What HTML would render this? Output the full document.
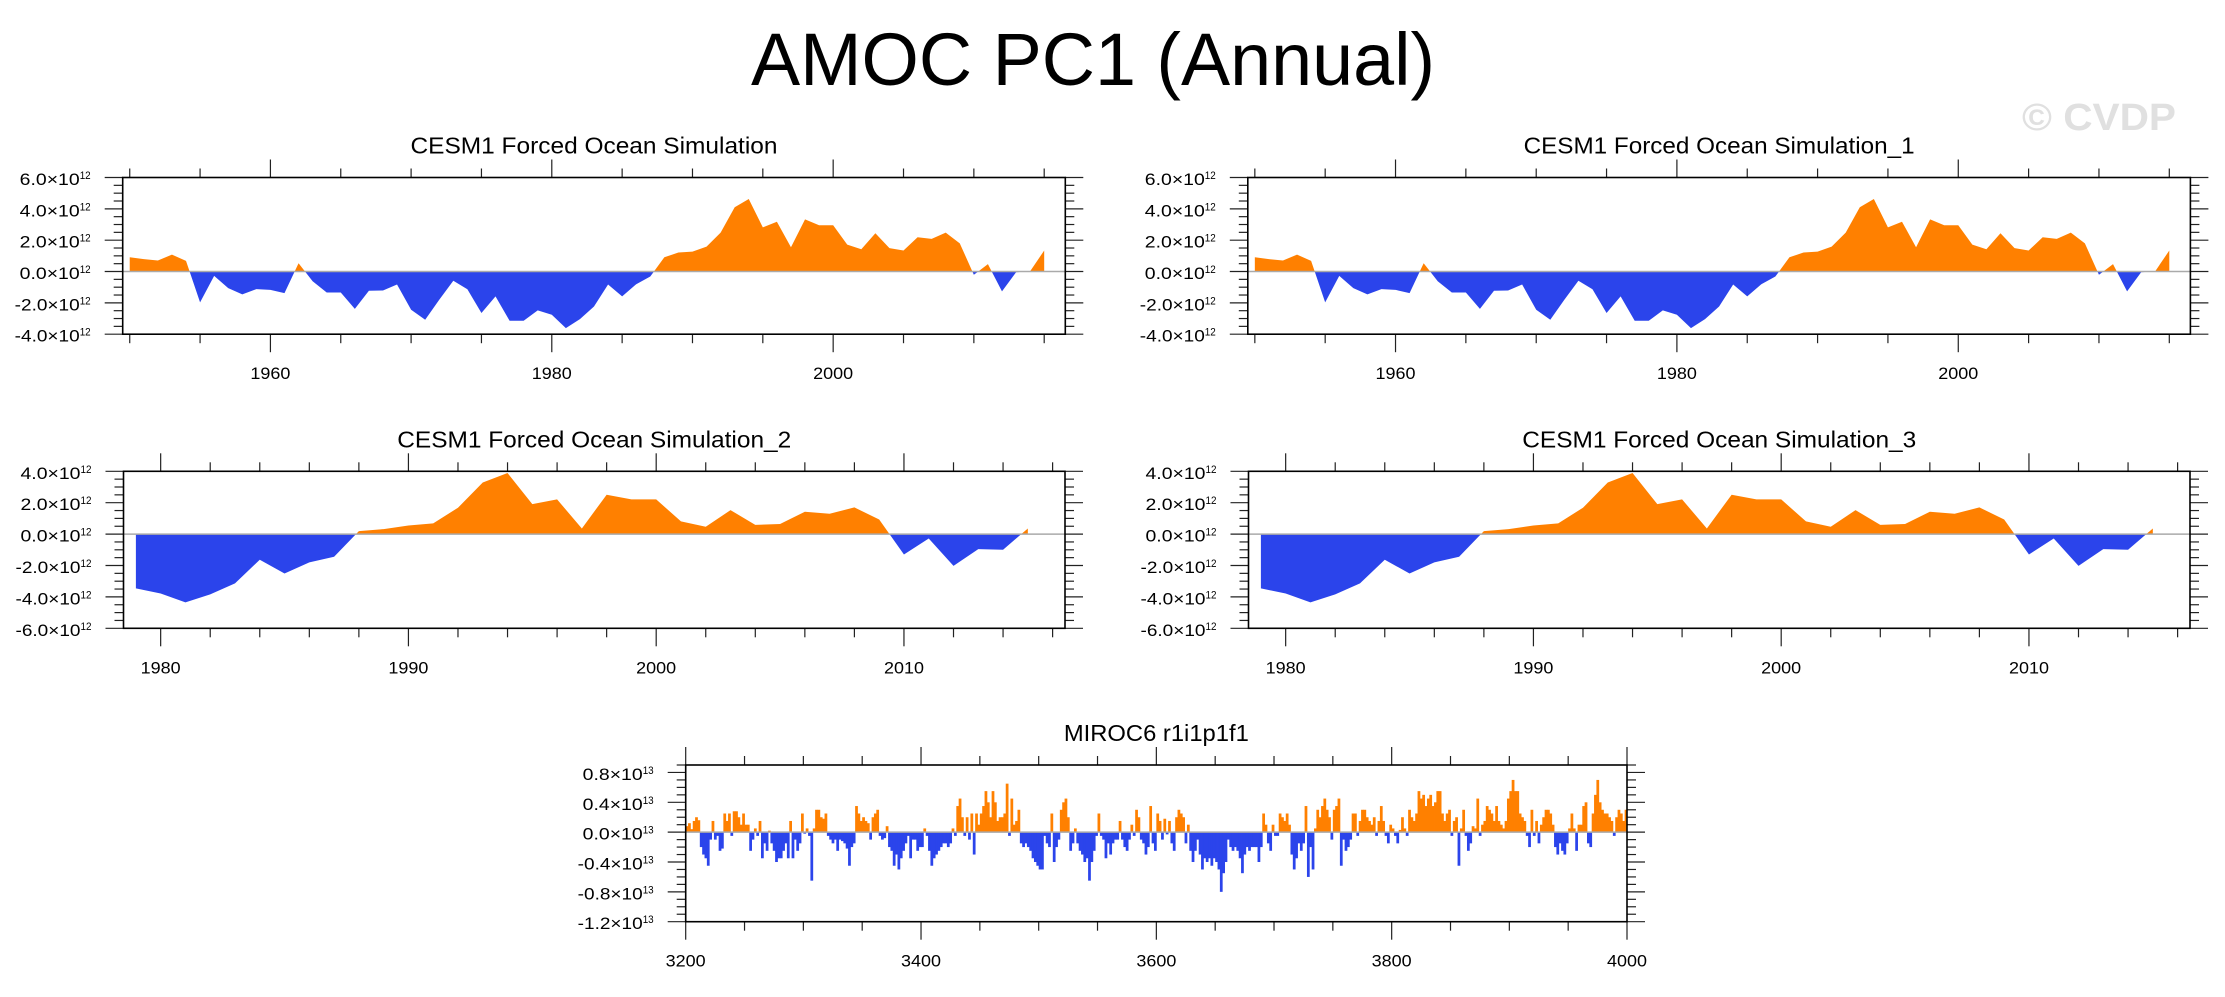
<!DOCTYPE html>
<html><head><meta charset="utf-8"><title>AMOC PC1 (Annual)</title>
<style>
html,body{margin:0;padding:0;background:#fff;}
svg{display:block;font-family:"Liberation Sans",Arial,sans-serif;}
</style></head>
<body>
<svg id="fig" xmlns="http://www.w3.org/2000/svg" width="2225" height="997" viewBox="0 0 2225 997">
<rect width="2225" height="997" fill="#fff"/>
<text x="1093" y="85" font-size="74" text-anchor="middle" textLength="684" lengthAdjust="spacingAndGlyphs">AMOC PC1 (Annual)</text>
<text x="2099" y="130" font-size="38" font-weight="bold" fill="#e0e0e0" text-anchor="middle" textLength="154" lengthAdjust="spacingAndGlyphs">© CVDP</text>
</svg>
<script>
// ---- Panel 1 / 2 data (CESM1, units 1e12) ----
const cesmYearsA = [1950,1951,1952,1953,1954,1955,1956,1957,1958,1959,1960,1961,1962,1963,1964,1965,1966,1967,1968,1969,1970,1971,1972,1973,1974,1975,1976,1977,1978,1979,1980,1981,1982,1983,1984,1985,1986,1987,1988,1989,1990,1991,1992,1993,1994,1995,1996,1997,1998,1999,2000,2001,2002,2003,2004,2005,2006,2007,2008,2009,2010,2011,2012,2013,2014,2015];
const cesmValuesA = [0.91,0.79,0.70,1.08,0.68,-1.97,-0.28,-1.06,-1.46,-1.12,-1.17,-1.38,0.53,-0.62,-1.34,-1.34,-2.38,-1.23,-1.21,-0.83,-2.44,-3.08,-1.80,-0.59,-1.13,-2.65,-1.59,-3.14,-3.14,-2.48,-2.76,-3.61,-3.04,-2.23,-0.83,-1.59,-0.81,-0.32,0.91,1.21,1.27,1.59,2.48,4.10,4.63,2.82,3.18,1.55,3.33,2.95,2.95,1.72,1.42,2.44,1.49,1.34,2.19,2.08,2.48,1.80,-0.21,0.47,-1.27,-0.05,0.02,1.34];
const yTicksA = [6,4,2,0,-2,-4];
const yTickLabelsA = ["6.0","4.0","2.0","0.0","-2.0","-4.0"];
const xTicksA = [1960,1980,2000];
const xTickLabelsA = ["1960","1980","2000"];
// ---- Panel 3 / 4 data ----
const cesmYearsB = [1979,1980,1981,1982,1983,1984,1985,1986,1987,1988,1989,1990,1991,1992,1993,1994,1995,1996,1997,1998,1999,2000,2001,2002,2003,2004,2005,2006,2007,2008,2009,2010,2011,2012,2013,2014,2015];
const cesmValuesB = [-3.46,-3.78,-4.35,-3.84,-3.14,-1.63,-2.51,-1.80,-1.44,0.19,0.32,0.55,0.68,1.68,3.29,3.89,1.91,2.21,0.36,2.51,2.21,2.21,0.81,0.47,1.53,0.59,0.64,1.42,1.30,1.70,0.93,-1.30,-0.28,-2.02,-0.96,-1.00,0.36];
const yTicksB = [4,2,0,-2,-4,-6];
const yTickLabelsB = ["4.0","2.0","0.0","-2.0","-4.0","-6.0"];
const xTicksB = [1980,1990,2000,2010];
const xTickLabelsB = ["1980","1990","2000","2010"];
// ---- Panel 5 data (MIROC6, units 1e12, 2-year steps from 3200) ----
const mirocStart = 3200;
const mirocStep = 2;
const mirocValues = [0.8,1.2,0.4,1.5,2.0,1.6,-2,-3,-3.5,-4.5,-1,1.5,-1,-0.5,-2.5,-2.2,2.5,1.5,2.5,-0.5,2.8,2.8,2.0,1.0,2.5,1.0,1.0,-2.5,-1.0,0.5,-0.5,1.5,-3.5,-1.5,-2.5,0.2,-1.5,-2.5,-4,-3.5,-3.5,-2.5,-1.5,-3.5,1.5,-3.5,-1.0,-2.5,-1.5,2.5,-0.2,0.5,-0.5,-6.5,0.5,3.0,3.0,2.0,1.8,2.5,-0.5,-1.0,-1.5,-1.0,-2.5,-1.0,-1.2,-1.5,-2.2,-4.5,-2.0,-1.5,3.5,2.5,1.5,2.0,1.5,1.2,-1.0,2.0,2.5,3.0,-0.5,-1.0,-0.8,0.8,-2.0,-2.5,-4.5,-3.0,-5.0,-3.5,-2.5,-1.5,-0.5,-3.5,-1.0,-1.0,-2.5,-2.0,-2.0,0.5,-0.5,
-2.5,-4.5,-3.5,-3.0,-2.5,-2.0,-1.5,-1.5,-2.0,-1.5,0.5,-0.5,3.5,4.5,2.0,-0.5,2.0,-1.0,2.5,-3.0,2.5,1.0,2.5,3.5,5.5,4.0,2.0,5.5,4.0,1.5,2.0,2.0,2.5,6.5,-0.5,4.5,1.0,1.5,3.0,-1.5,-2.0,-1.5,-2.0,-2.5,-3.5,-4.0,-4.5,-5.0,-5.0,-0.5,-1.5,-2.0,2.5,-4.0,-2.0,-1.0,3.0,4.0,4.5,2.0,-2.5,-1.5,0.5,-1.5,-2.5,-3.0,-4.0,-3.5,-6.5,-4.0,-2.5,-0.5,2.5,-0.5,-1.0,-3.5,-1.5,-3.0,-1.5,-1.0,-1.0,1.5,-1.0,-2.0,-2.5,-1.0,1.0,-0.5,3.0,2.0,-1.0,-1.5,-3.0,-2.0,3.5,-1.5,-2.5,2.5,1.5,-1.0,
1.8,-0.3,1.5,-1.5,-2.5,2.0,3.0,2.5,2.0,-1.5,1.0,-2.5,-4.0,-2.5,-1.0,-3.0,-5.0,-3.5,-4.0,-3.5,-4.5,-3.5,-4.0,-5.0,-8.0,-5.5,-4.0,-1.0,-2.0,-2.5,-2.0,-2.5,-3.5,-5.5,-3.0,-2.0,-2.5,-2.0,-2.0,-2.0,-4.0,-2.0,2.5,1.0,-1.5,-2.5,1.0,-0.5,-0.5,2.5,2.0,1.5,2.5,1.0,-3.0,-5.0,-3.5,-1.5,-2.5,-1.5,3.5,-6.0,-2.0,-5.0,0.5,3.0,2.0,3.5,4.5,3.0,2.0,-1.0,3.0,3.5,4.5,-4.5,-1.0,-2.5,-2.0,-1.0,2.5,2.5,-0.5,1.5,3.0,3.0,2.0,1.5,1.0,2.0,-0.5,1.5,3.5,1.5,-0.5,-1.5,1.0,0.5,-0.5,-1.5,
0.3,2.0,0.5,-0.5,3.0,2.0,1.5,2.5,5.5,4.5,5.0,3.5,4.5,5.0,3.5,4.0,5.5,5.5,2.5,1.5,2.5,3.0,-0.5,1.5,2.0,-4.5,0.5,3.0,-0.5,-2.5,-1.5,0.8,0.5,4.5,-0.5,1.0,1.5,3.5,3.0,2.5,1.5,3.5,1.5,1.0,0.5,1.5,4.5,5.5,7.0,5.5,5.5,2.5,2.0,1.5,-0.5,-2.0,3.0,-0.5,1.5,-1.5,1.0,2.0,3.0,3.0,2.5,1.0,-2.0,-3.0,-1.5,-2.5,-3.0,-1.5,0.5,2.5,0.5,-2.5,1.0,1.0,3.5,4.0,-1.5,-2.0,2.5,5.0,7.0,4.0,3.0,2.5,2.5,2.0,1.5,-0.5,2.0,3.0,2.5,1.5,3.0,1.5,-3.0];
const yTicksM = [8,4,0,-4,-8,-12];
const yTickLabelsM = ["0.8","0.4","0.0","-0.4","-0.8","-1.2"];
const xTicksM = [3200,3400,3600,3800,4000];
const xTickLabelsM = ["3200","3400","3600","3800","4000"];

const NS = "http://www.w3.org/2000/svg";
const svg = document.getElementById("fig");
const ORANGE = "#ff8000", BLUE = "#2b44eb";
let clipId = 0;
function mk(tag, attrs, parent) {
  const e = document.createElementNS(NS, tag);
  for (const k in attrs) e.setAttribute(k, attrs[k]);
  (parent || svg).appendChild(e);
  return e;
}

function drawPanel(o) {
  const g = mk("g", {});
  
  
  const L = o.left, T = o.top, W = o.w, H = o.h, R = L + W, B = T + H;
  const xs = v => L + (v - o.xmin) / (o.xmax - o.xmin) * W;
  const ys = v => T + (o.ymax - v) / (o.ymax - o.ymin) * H;
  const zy = ys(0);
  const t = mk("text", {x: L + W / 2, y: T - 24, "font-size": 23, "text-anchor": "middle", textLength: o.titleLen, lengthAdjust: "spacingAndGlyphs"}, g);
  t.textContent = o.title;
  
  
  const defs = mk("defs", {}, g);
  const idA = "ca" + (clipId++), idB = "cb" + (clipId++), idP = "cp" + (clipId++);
  const cA = mk("clipPath", {id: idA}, defs); mk("rect", {x: L, y: T, width: W, height: zy - T}, cA);
  const cB = mk("clipPath", {id: idB}, defs); mk("rect", {x: L, y: zy, width: W, height: B - zy}, cB);
  const cP = mk("clipPath", {id: idP}, defs); mk("rect", {x: L, y: T, width: W, height: H}, cP);
  if (o.type === "area") {
    let d = "M" + xs(o.xv[0]) + "," + zy;
    for (let i = 0; i < o.yv.length; i++) d += " L" + xs(o.xv[i]) + "," + ys(o.yv[i]);
    d += " L" + xs(o.xv[o.xv.length - 1]) + "," + zy + " Z";
    const pa = mk("path", {d: d, fill: ORANGE, "clip-path": "url(#" + idA + ")"}, g);
    
    
    const pb = mk("path", {d: d, fill: BLUE, "clip-path": "url(#" + idB + ")"}, g);
    
    
  } else {
    const bg = mk("g", {"clip-path": "url(#" + idP + ")"}, g);
    for (let i = 0; i < o.yv.length; i++) {
      const yr = o.start + i * o.step;
      const x0 = xs(yr), x1 = xs(yr + o.step);
      const v = o.yv[i], y = ys(v);
      const r = mk("rect", {x: x0, y: Math.min(y, zy), width: x1 - x0 + 0.4, height: Math.abs(y - zy), fill: v >= 0 ? ORANGE : BLUE}, bg);
      
      
    }
  }
  const zl = mk("line", {x1: L, x2: R, y1: zy, y2: zy, stroke: "#aaa", "stroke-width": 1.5}, g);
  
  
  const tk = mk("g", {stroke: "#222", "stroke-width": 1.2}, g);
  
  
  const nMin = Math.round((o.ymax - o.ymin) / o.yMinor);
  for (let k = 0; k <= nMin; k++) {
    const v = o.ymin + k * o.yMinor, y = ys(v);
    const major = o.yTicks.some(m => Math.abs(m - v) < 1e-6);
    const len = major ? 18 : 9;
    mk("line", {x1: L - len, x2: L, y1: y, y2: y}, tk);
    mk("line", {x1: R, x2: R + len, y1: y, y2: y}, tk);
  }
  for (let v = o.xMinorStart; v <= o.xmax + 1e-6; v += o.xMinor) {
    const x = xs(v);
    const major = o.xTicks.indexOf(v) >= 0;
    const len = major ? 18 : 9;
    mk("line", {x1: x, x2: x, y1: T - len, y2: T}, tk);
    mk("line", {x1: x, x2: x, y1: B, y2: B + len}, tk);
  }
  const fr = mk("rect", {x: L, y: T, width: W, height: H, fill: "none", stroke: "#000", "stroke-width": 1.6}, g);
  
  
  for (let i = 0; i < o.yTicks.length; i++) {
    const y = ys(o.yTicks[i]);
    const lab = o.yLabels[i];
    const m = mk("text", {x: L - 43, y: y + 7.5, "font-size": 17, "text-anchor": "end", textLength: (lab[0] === "-" ? 65 : 60), lengthAdjust: "spacingAndGlyphs"}, g);
    m.textContent = lab + "×10";
    
    
    const s = mk("text", {x: L - 43, y: y + 1.5, "font-size": 11, textLength: 11, lengthAdjust: "spacingAndGlyphs"}, g);
    s.textContent = o.expo;
    
    
  }
  for (let i = 0; i < o.xTicks.length; i++) {
    const xl = mk("text", {x: xs(o.xTicks[i]), y: B + 45, "font-size": 17, "text-anchor": "middle", textLength: 40, lengthAdjust: "spacingAndGlyphs"}, g);
    xl.textContent = o.xLabels[i];
    
    
  }
}

drawPanel({name: "panel-cesm1", title: "CESM1 Forced Ocean Simulation", titleLen: 367, type: "area", left: 122.7, top: 177.5, w: 942.6, h: 156.7, xmin: 1949.5, xmax: 2016.5, ymin: -4, ymax: 6, yMinor: 0.5, yTicks: yTicksA, yLabels: yTickLabelsA, xTicks: xTicksA, xLabels: xTickLabelsA, xMinorStart: 1950, xMinor: 5, xv: cesmYearsA, yv: cesmValuesA, expo: "12"});
drawPanel({name: "panel-cesm1-1", title: "CESM1 Forced Ocean Simulation_1", titleLen: 391, type: "area", left: 1247.8, top: 177.5, w: 942.6, h: 156.7, xmin: 1949.5, xmax: 2016.5, ymin: -4, ymax: 6, yMinor: 0.5, yTicks: yTicksA, yLabels: yTickLabelsA, xTicks: xTicksA, xLabels: xTickLabelsA, xMinorStart: 1950, xMinor: 5, xv: cesmYearsA, yv: cesmValuesA, expo: "12"});
drawPanel({name: "panel-cesm1-2", title: "CESM1 Forced Ocean Simulation_2", titleLen: 394, type: "area", left: 123.5, top: 471.3, w: 941.5, h: 157, xmin: 1978.5, xmax: 2016.5, ymin: -6, ymax: 4, yMinor: 0.5, yTicks: yTicksB, yLabels: yTickLabelsB, xTicks: xTicksB, xLabels: xTickLabelsB, xMinorStart: 1980, xMinor: 2, xv: cesmYearsB, yv: cesmValuesB, expo: "12"});
drawPanel({name: "panel-cesm1-3", title: "CESM1 Forced Ocean Simulation_3", titleLen: 394, type: "area", left: 1248.5, top: 471.3, w: 941.5, h: 157, xmin: 1978.5, xmax: 2016.5, ymin: -6, ymax: 4, yMinor: 0.5, yTicks: yTicksB, yLabels: yTickLabelsB, xTicks: xTicksB, xLabels: xTickLabelsB, xMinorStart: 1980, xMinor: 2, xv: cesmYearsB, yv: cesmValuesB, expo: "12"});
drawPanel({name: "panel-miroc6", title: "MIROC6 r1i1p1f1", titleLen: 185, type: "bar", left: 685.7, top: 765, w: 941.3, h: 156.7, xmin: 3200, xmax: 4000, ymin: -12, ymax: 9, yMinor: 1, yTicks: yTicksM, yLabels: yTickLabelsM, xTicks: xTicksM, xLabels: xTickLabelsM, xMinorStart: 3200, xMinor: 50, start: mirocStart, step: mirocStep, yv: mirocValues, expo: "13"});
</script>
</body></html>
